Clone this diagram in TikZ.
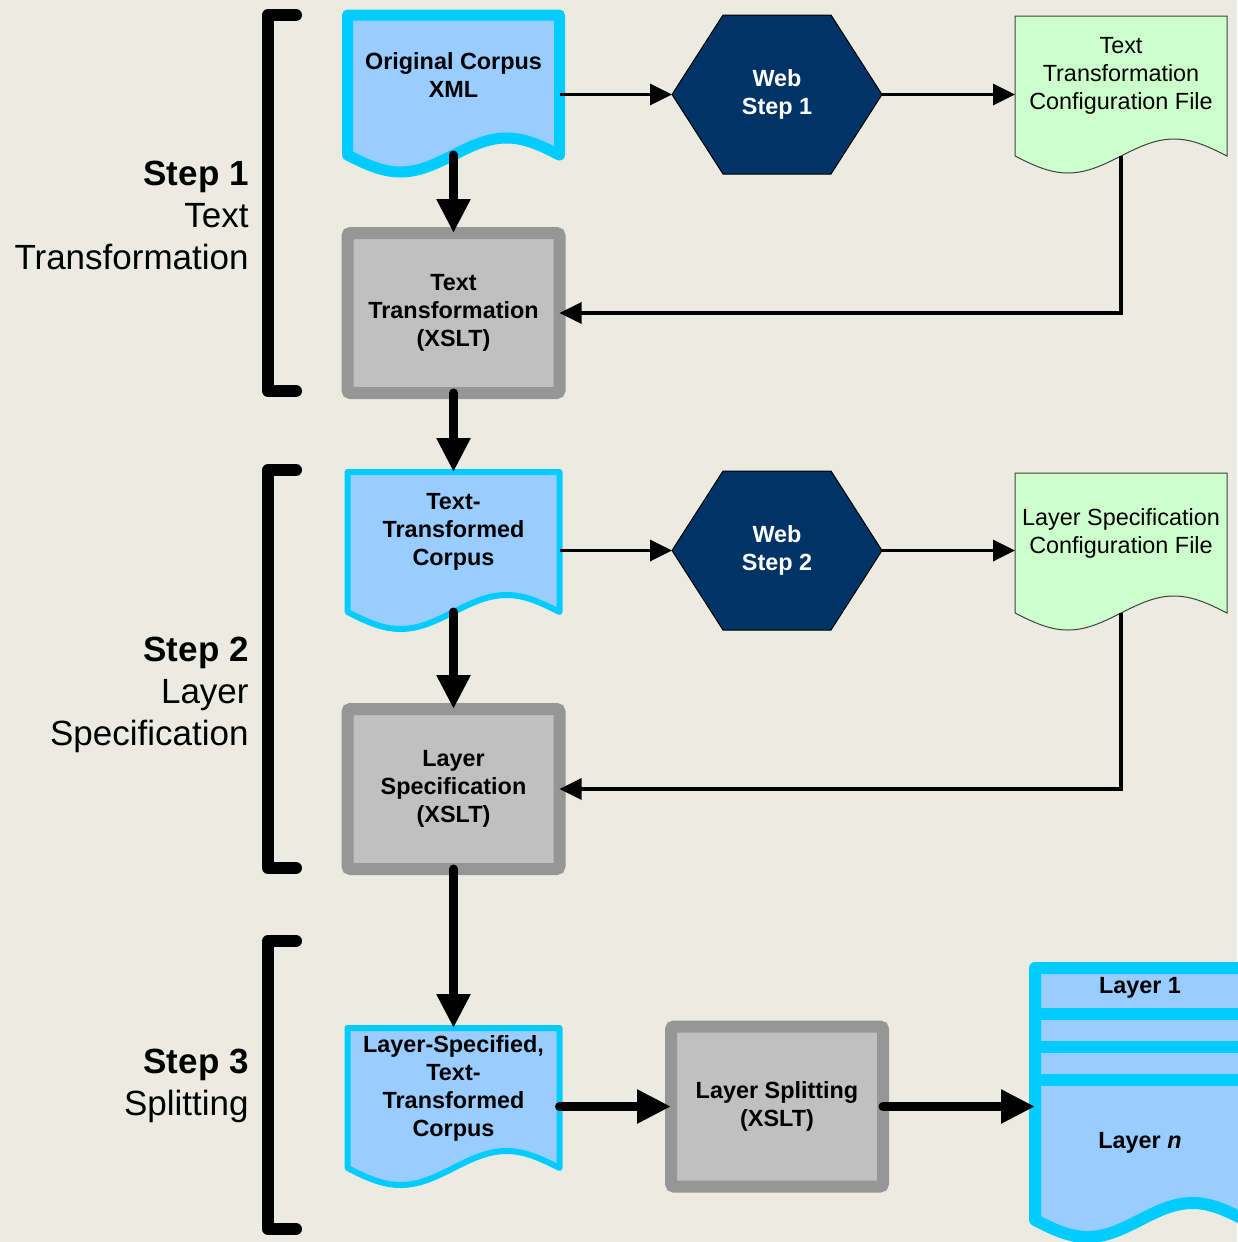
\documentclass[tikz,border=0pt]{standalone}
\usepackage{fontspec}
\setmainfont{Liberation Sans}
\usepackage{tikz}
\usetikzlibrary{arrows.meta, calc, positioning}

\definecolor{paper}{RGB}{235,235,226}
\definecolor{docfill}{RGB}{153,204,255}
\definecolor{docline}{RGB}{0,204,255}
\definecolor{boxfill}{RGB}{192,192,192}
\definecolor{boxline}{RGB}{150,150,150}
\definecolor{webfill}{RGB}{0,51,102}
\definecolor{filefill}{RGB}{204,255,204}

\pgfdeclarelayer{back}
\pgfsetlayers{back,main}

% document outline with a wavy bottom, below the text area of node #1
\newcommand{\docpath}[1]{(#1.north west) -- (#1.north east) -- ($(#1.south east)+(0,20)$)
  sin ($(#1.south east)!.25!(#1.south west)+(0,3)$)
  cos ($(#1.south)+(0,20)$)
  sin ($(#1.south east)!.75!(#1.south west)+(0,37)$)
  cos ($(#1.south west)+(0,20)$) -- cycle}
\newcommand{\hexpath}[1]{(#1.west) -- ([xshift=25.5pt]#1.north west) -- ([xshift=-25.5pt]#1.north east)
  -- (#1.east) -- ([xshift=-25.5pt]#1.south east) -- ([xshift=25.5pt]#1.south west) -- cycle}

\begin{document}
\begin{tikzpicture}[x=0.5pt,y=-0.5pt,
        label font/.style={font=\fontsize{11.7}{14}\selectfont\bfseries},
        doc node/.style={label font,align=center,inner sep=0pt,outer sep=0pt,
          minimum width=106pt,minimum height=60pt},
        box node/.style={label font,align=center,draw=boxline,fill=boxfill,line width=6pt,
          rounded corners=1.5pt,inner sep=0pt,outer sep=0pt,minimum width=106pt,minimum height=80pt},
        web node/.style={label font,text=white,align=center,inner sep=0pt,outer sep=0pt,
          minimum width=105pt,minimum height=79.5pt},
        file node/.style={font=\fontsize{11.7}{14}\selectfont,align=center,inner sep=0pt,
          outer sep=0pt,minimum width=106pt,minimum height=60pt},
        phase label/.style={font=\fontsize{17.5}{21}\selectfont,align=right,anchor=east,inner sep=0pt},
        bracket/.style={line width=6pt,line cap=round,line join=round},
        flow/.style={line width=1.75pt,-{Triangle[length=11pt,width=10.5pt]}},
        bigflow/.style={line width=4.5pt,line cap=round,-{Triangle[length=17pt,width=16pt]}}]
        \useasboundingbox (0,0) rectangle (1237,1242);
        \begin{pgfonlayer}{back}
        \fill[paper] (0,0) rectangle (1237,1242);
        \end{pgfonlayer}

        % main column
        \node[doc node] (orig) at (453.5,75) {Original Corpus\\XML};
        \node[box node] (ttrans) [below=49pt of orig] {Text\\Transformation\\(XSLT)};
        \node[doc node] (ttcorpus) [below=39.5pt of ttrans] {Text-\\Transformed\\Corpus};
        \node[box node] (lspec) [below=58.5pt of ttcorpus] {Layer\\Specification\\(XSLT)};
        \node[doc node] (lscorpus) [below=79.5pt of lspec] {Layer-Specified,\\Text-\\Transformed\\Corpus};
        \node[box node] (split) at (777,1106.5) {Layer Splitting\\(XSLT)};

        % web steps and configuration files
        \node[web node] (web1) at (777,94.5) {Web\\Step 1};
        \node[web node] (web2) at (777,550.5) {Web\\Step 2};
        \node[file node] (ttconf) at (1121,76) {Text\\Transformation\\Configuration File};
        \node[file node] (lsconf) at (1121,533) {Layer Specification\\Configuration File};

        % split layers
        \node[inner sep=0pt,outer sep=0pt,minimum width=105pt,minimum height=116pt] (layers) at (1140,1084) {};
        \node[label font] (layer1) at ($(layers.north)+(0,20)$) {Layer 1};
        \node[label font] (layern) at ($(layers.north)+(0,175)$) {Layer \textit{n}};

        \begin{pgfonlayer}{back}
        \foreach \n/\w in {orig/5.5pt, ttcorpus/3pt, lscorpus/3pt} {
        \draw[draw=docline,fill=docfill,line width=\w,line join=round] \docpath{\n};}
        \foreach \n in {ttconf, lsconf} {
        \draw[draw=black!75,fill=filefill,line width=0.5pt] \docpath{\n};}
        \foreach \n in {web1, web2} {
        \draw[fill=webfill,line width=0.5pt] \hexpath{\n};}
        \draw[draw=docline,fill=docfill,line width=6pt,line join=round] \docpath{layers};
        \foreach \d in {46,79,112} {
        \draw[docline,line width=6pt] ($(layers.north west)+(0,\d)$) -- ($(layers.north east)+(0,\d)$);}
        \end{pgfonlayer}

        % step labels
        \node[phase label] (step1) at (249,215) {\textbf{Step 1}\\Text\\Transformation};
        \node[phase label] (step2) at (249,695) {\textbf{Step 2}\\Layer\\Specification};
        \node[phase label] (step3) at (249,1086) {\textbf{Step 3}\\Splitting};
        \foreach \a/\b in {15/391, 470/868, 941/1229} {
        \draw[bracket] (296,\a) -- (268,\a) -- (268,\b) -- (296,\b);}

        % connectors
        \foreach \s/\t in {orig/web1, ttcorpus/web2} {
        \draw[flow] (\s.east |- \t) -- (\t.west);}
        \draw[flow] (web1.east) -- (ttconf.west |- web1);
        \draw[flow] (web2.east) -- (lsconf.west |- web2);
        \draw[flow] ([yshift=-10pt]ttconf.south) |- (ttrans.east);
        \draw[flow] ([yshift=-10pt]lsconf.south) |- (lspec.east);
        \draw[bigflow] ([yshift=-10pt]orig.south) -- (ttrans.north);
        \draw[bigflow] ([yshift=-10pt]ttcorpus.south) -- (lspec.north);
        \foreach \s/\t in {ttrans/ttcorpus, lspec/lscorpus} {
        \draw[bigflow] (\s.south) -- (\t.north);}
        \draw[bigflow] (lscorpus.east |- split) -- (split.west);
        \draw[bigflow] (split.east) -- (layers.west |- split);
\end{tikzpicture}
\end{document}
